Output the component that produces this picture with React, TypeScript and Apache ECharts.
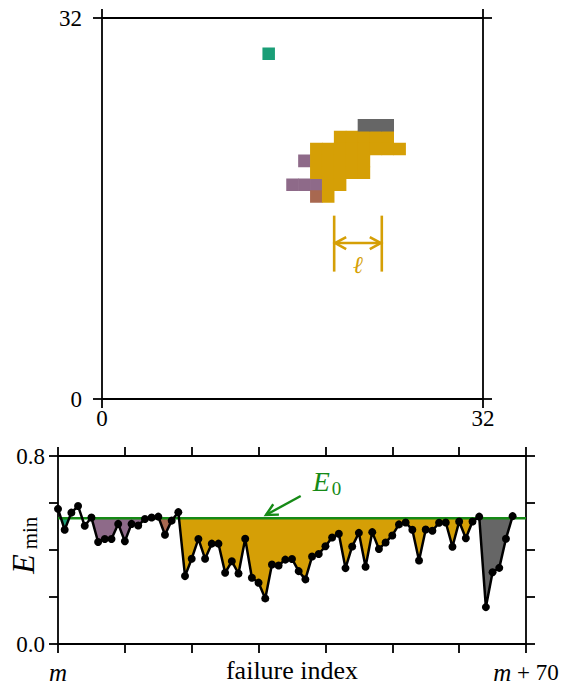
import React, { useEffect, useRef } from "react";
import * as echarts from "echarts";

// ---------- top panel: lattice (32 x 32) ----------
const LATTICE_MIN = 0;
const LATTICE_MAX = 32;
const greenCells = [[14, 29]];
const grayCells = [[22, 23], [23, 23], [24, 23]];
const goldCells = [
  [20, 22], [21, 22], [22, 22], [23, 22], [24, 22],
  [18, 21], [19, 21], [20, 21], [21, 21], [22, 21], [23, 21], [24, 21], [25, 21],
  [18, 20], [19, 20], [20, 20], [21, 20], [22, 20],
  [18, 19], [19, 19], [20, 19], [21, 19], [22, 19],
  [19, 18], [20, 18],
  [19, 17],
];
const purpleCells = [[17, 20], [16, 18], [17, 18], [18, 18]];
const brownCells = [[18, 17]];
// ell annotation (lattice units)
const ellLeft = 19.5;
const ellRight = 23.5;

// ---------- bottom panel ----------
const X_MIN = 0;
const X_MAX = 70;
const Y_MIN = 0;
const Y_MAX = 0.8;
const E0 = 0.535;
const eMin = [
  0.575, 0.486, 0.559, 0.587, 0.503, 0.538, 0.434, 0.447, 0.447, 0.511,
  0.437, 0.511, 0.504, 0.532, 0.538, 0.542, 0.465, 0.525, 0.561, 0.289,
  0.363, 0.447, 0.363, 0.427, 0.427, 0.303, 0.352, 0.300, 0.448, 0.282,
  0.261, 0.194, 0.338, 0.334, 0.359, 0.362, 0.310, 0.275, 0.372, 0.383,
  0.416, 0.453, 0.469, 0.323, 0.415, 0.473, 0.329, 0.476, 0.404, 0.432,
  0.462, 0.509, 0.517, 0.486, 0.355, 0.487, 0.482, 0.516, 0.517, 0.414,
  0.521, 0.450, 0.521, 0.542, 0.157, 0.305, 0.324, 0.448, 0.544,
];
// avalanche regions: [startIndex, endIndex, colorIndex]
const regions = [
  [0, 2, 0],
  [5, 14, 1],
  [15, 18, 2],
  [18, 63, 3],
  [63, 68, 4],
];

const COLORS = ["#1a9e77", "#8e6a89", "#a86850", "#d59f06", "#666666"];
const GREEN_LINE = "#168a16";
const FONT = "Liberation Serif";
const AX = "#000";

function clipBelow(poly: number[][]): number[][] {
  const out: number[][] = [];
  const n = poly.length;
  const inter = (p: number[], c: number[]) => {
    const t = (E0 - p[1]) / (c[1] - p[1]);
    return [p[0] + t * (c[0] - p[0]), E0];
  };
  for (let i = 0; i < n; i++) {
    const cur = poly[i];
    const prev = poly[(i - 1 + n) % n];
    const ci = cur[1] <= E0;
    const pi = prev[1] <= E0;
    if (ci) {
      if (!pi) out.push(inter(prev, cur));
      out.push(cur);
    } else if (pi) {
      out.push(inter(prev, cur));
    }
  }
  return out;
}

export default function App() {
  const ref = useRef<HTMLDivElement>(null);
  useEffect(() => {
    document.body.style.margin = "0";
    const chart = echarts.init(ref.current!, null, { renderer: "svg" });

    const cells: number[][] = [];
    [greenCells, purpleCells, brownCells, goldCells, grayCells].forEach((arr, k) => {
      arr.forEach((c) => cells.push([c[0], c[1], k]));
    });

    const axisCommon = {
      axisLine: { show: true, onZero: false, lineStyle: { color: AX, width: 1.8 } },
      axisTick: { show: true, inside: false, length: 9, lineStyle: { color: AX, width: 1.8 } },
      splitLine: { show: false },
    };
    const labelStyle = { color: "#000", fontFamily: FONT, fontSize: 23 };

    const option: any = {
      animation: false,
      grid: [
        { left: 102, top: 18, width: 381, height: 381 },
        { left: 58, top: 456, width: 468, height: 189 },
      ],
      xAxis: [
        {
          gridIndex: 0, type: "value", position: "bottom", min: LATTICE_MIN, max: LATTICE_MAX, interval: 32,
          ...axisCommon,
          axisLabel: { ...labelStyle, margin: 8, showMinLabel: true, showMaxLabel: true },
        },
        {
          gridIndex: 0, type: "value", position: "top", min: LATTICE_MIN, max: LATTICE_MAX, interval: 32,
          ...axisCommon, axisLabel: { show: false },
        },
        {
          gridIndex: 1, type: "value", position: "bottom", min: X_MIN, max: X_MAX, interval: 10,
          ...axisCommon,
          axisLabel: {
            ...labelStyle, margin: 16, showMinLabel: true, showMaxLabel: true,
            formatter: (v: number) => (v === 0 ? "{i|m}" : v === 70 ? "{i|m} + 70" : ""),
            rich: { i: { fontStyle: "italic", fontFamily: FONT, fontSize: 25, color: "#000" } },
          },
        },
        {
          gridIndex: 1, type: "value", position: "top", min: X_MIN, max: X_MAX, interval: 10,
          ...axisCommon, axisLabel: { show: false },
        },
      ],
      yAxis: [
        {
          gridIndex: 0, type: "value", position: "left", min: LATTICE_MIN, max: LATTICE_MAX, interval: 32,
          ...axisCommon,
          axisLabel: { ...labelStyle, margin: 20, showMinLabel: true, showMaxLabel: true },
        },
        {
          gridIndex: 0, type: "value", position: "right", min: LATTICE_MIN, max: LATTICE_MAX, interval: 32,
          ...axisCommon, axisLabel: { show: false },
        },
        {
          gridIndex: 1, type: "value", position: "left", min: Y_MIN, max: Y_MAX, interval: 0.2,
          ...axisCommon,
          axisLabel: {
            ...labelStyle, margin: 13, showMinLabel: true, showMaxLabel: true,
            formatter: (v: number) => (Math.abs(v) < 1e-9 ? "0.0" : Math.abs(v - 0.8) < 1e-9 ? "0.8" : ""),
          },
        },
        {
          gridIndex: 1, type: "value", position: "right", min: Y_MIN, max: Y_MAX, interval: 0.2,
          ...axisCommon, axisLabel: { show: false },
        },
      ],
      series: [
        {
          type: "custom",
          xAxisIndex: 0, yAxisIndex: 0,
          data: cells,
          silent: true,
          z: 2,
          renderItem: (params: any, api: any) => {
            const x = api.value(0);
            const y = api.value(1);
            const c = api.value(2);
            const p0 = api.coord([x - 0.5, y + 0.5]);
            const p1 = api.coord([x + 0.5, y - 0.5]);
            const o = 0.3;
            return {
              type: "rect",
              shape: { x: p0[0] - o, y: p0[1] - o, width: p1[0] - p0[0] + 2 * o, height: p1[1] - p0[1] + 2 * o },
              style: { fill: COLORS[c] },
            };
          },
        },
        {
          type: "custom",
          xAxisIndex: 2, yAxisIndex: 2,
          data: regions,
          silent: true,
          z: 2,
          renderItem: (params: any, api: any) => {
            const s = api.value(0);
            const e = api.value(1);
            const c = api.value(2);
            const poly: number[][] = [[s, E0]];
            for (let i = s; i <= e; i++) poly.push([i, eMin[i]]);
            poly.push([e, E0]);
            const clipped = clipBelow(poly).map((p) => api.coord(p));
            return { type: "polygon", shape: { points: clipped }, style: { fill: COLORS[c] } };
          },
        },
        {
          type: "line",
          xAxisIndex: 2, yAxisIndex: 2,
          data: [[X_MIN, E0], [X_MAX, E0]],
          symbol: "none",
          silent: true,
          z: 3,
          lineStyle: { color: GREEN_LINE, width: 2.6 },
        },
        {
          type: "line",
          xAxisIndex: 2, yAxisIndex: 2,
          data: eMin.map((v, i) => [i, v]),
          symbol: "circle",
          symbolSize: 8,
          silent: true,
          z: 4,
          itemStyle: { color: "#000" },
          lineStyle: { color: "#000", width: 2.5 },
        },
      ],
    };
    chart.setOption(option);

    const top = (v: number[]) => chart.convertToPixel({ seriesIndex: 0 }, v) as number[];
    const bot = (v: number[]) => chart.convertToPixel({ seriesIndex: 3 }, v) as number[];
    const gold = COLORS[3];

    const aTopL = top([ellLeft, 15.4]);
    const aBotL = top([ellLeft, 10.7]);
    const aTopR = top([ellRight, 15.4]);
    const aBotR = top([ellRight, 10.7]);
    const aMidL = top([ellLeft, 13.1]);
    const aMidR = top([ellRight, 13.1]);
    const ellPos = top([(ellLeft + ellRight) / 2, 11.25]);
    const hl = 12, hw = 6;

    const tail = bot([36.3, 0.63]);
    const head = bot([31.1, 0.549]);
    const dx = head[0] - tail[0], dy = head[1] - tail[1];
    const L = Math.hypot(dx, dy);
    const ux = dx / L, uy = dy / L;
    const ang = (27 * Math.PI) / 180;
    const al = 13;
    const rot = (x: number, y: number, a: number) => [x * Math.cos(a) - y * Math.sin(a), x * Math.sin(a) + y * Math.cos(a)];
    const b1 = rot(-ux, -uy, ang), b2 = rot(-ux, -uy, -ang);
    const ePos = bot([39.4, 0.693]);

    chart.setOption({
      graphic: [
        { type: "line", shape: { x1: aTopL[0], y1: aTopL[1], x2: aBotL[0], y2: aBotL[1] }, style: { stroke: gold, lineWidth: 2.6 } },
        { type: "line", shape: { x1: aTopR[0], y1: aTopR[1], x2: aBotR[0], y2: aBotR[1] }, style: { stroke: gold, lineWidth: 2.6 } },
        { type: "line", shape: { x1: aMidL[0], y1: aMidL[1], x2: aMidR[0], y2: aMidR[1] }, style: { stroke: gold, lineWidth: 2.6 } },
        { type: "polyline", shape: { points: [[aMidL[0] + hl, aMidL[1] - hw], [aMidL[0] + 1, aMidL[1]], [aMidL[0] + hl, aMidL[1] + hw]] }, style: { stroke: gold, lineWidth: 2.6, fill: "none" } },
        { type: "polyline", shape: { points: [[aMidR[0] - hl, aMidR[1] - hw], [aMidR[0] - 1, aMidR[1]], [aMidR[0] - hl, aMidR[1] + hw]] }, style: { stroke: gold, lineWidth: 2.6, fill: "none" } },
        { type: "text", x: ellPos[0], y: ellPos[1], style: { text: "ℓ", fill: gold, font: `italic 24px "${FONT}"`, align: "center", verticalAlign: "middle" } },

        { type: "line", z: 10, shape: { x1: tail[0], y1: tail[1], x2: head[0], y2: head[1] }, style: { stroke: GREEN_LINE, lineWidth: 2.4 } },
        { type: "polyline", z: 10, shape: { points: [[head[0] + b1[0] * al, head[1] + b1[1] * al], [head[0], head[1]], [head[0] + b2[0] * al, head[1] + b2[1] * al]] }, style: { stroke: GREEN_LINE, lineWidth: 2.4, fill: "none" } },
        { type: "text", x: ePos[0], y: ePos[1], style: { text: "E", fill: GREEN_LINE, font: `italic 28px "${FONT}"`, align: "center", verticalAlign: "middle" } },
        { type: "text", x: ePos[0] + 15, y: ePos[1] + 7, style: { text: "0", fill: GREEN_LINE, font: `19px "${FONT}"`, align: "center", verticalAlign: "middle" } },

        { type: "text", x: 292, y: 670, style: { text: "failure index", fill: "#000", font: `26px "${FONT}"`, align: "center", verticalAlign: "middle" } },
        { type: "text", x: 23, y: 564, rotation: Math.PI / 2, style: { text: "E", fill: "#000", font: `italic 32px "${FONT}"`, align: "center", verticalAlign: "middle" } },
        { type: "text", x: 30, y: 533, rotation: Math.PI / 2, style: { text: "min", fill: "#000", font: `21px "${FONT}"`, align: "center", verticalAlign: "middle" } },
      ],
    });

    return () => chart.dispose();
  }, []);
  return <div ref={ref} style={{ width: 564, height: 685 }} />;
}
